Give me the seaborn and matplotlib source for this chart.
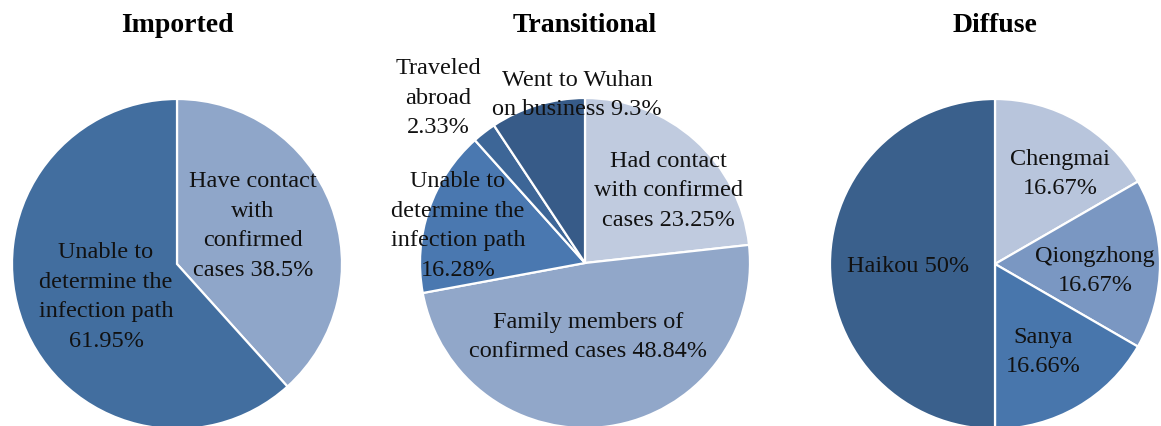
import matplotlib
matplotlib.use("Agg")
import matplotlib.pyplot as plt
import seaborn as sns

sns.set_theme(style="white")
plt.rcParams["font.family"] = ["Liberation Serif", "DejaVu Serif"]

# chart data
titles = ["Imported", "Transitional", "Diffuse"]

imported_cats = ["Have contact\nwith\nconfirmed\ncases", "Unable to\ndetermine the\ninfection path"]
imported_vals = [38.5, 61.95]

transitional_cats = ["Had contact\nwith confirmed\ncases", "Family members of\nconfirmed cases",
                     "Unable to\ndetermine the\ninfection path", "Traveled\nabroad",
                     "Went to Wuhan\non business"]
transitional_vals = [23.25, 48.84, 16.28, 2.33, 9.3]

diffuse_cats = ["Chengmai", "Qiongzhong", "Sanya", "Haikou"]
diffuse_vals = [16.67, 16.67, 16.66, 50]

# styling / layout
W, H, R, L = 1161, 427, 165, 1.04
seps = [[" ", "\n"], [" ", " ", "\n", "\n", " "], ["\n", "\n", "\n", " "]]
colors = [["#8fa6c9", "#426e9f"],
          ["#c0cbdf", "#91a7c9", "#4a78b0", "#3d6697", "#375b88"],
          ["#b8c5dc", "#7a97c2", "#4876ac", "#3a608c"]]
centers = [(177, 265), (585, 264), (995, 265)]
# label centres in pixels
label_pos = [[(253, 226), (106, 297)],
             [(668, 191), (588, 337), (458, 226), (438, 98), (577, 95)],
             [(1060, 174), (1095, 271), (1043, 352), (908, 267)]]

cats_all = [imported_cats, transitional_cats, diffuse_cats]
vals_all = [imported_vals, transitional_vals, diffuse_vals]

fig = plt.figure(figsize=(W / 100, H / 100), dpi=100)

for i in range(3):
    cx, cy = centers[i]
    ax = fig.add_axes([(cx - R * L) / W, (H - cy - R * L) / H, 2 * R * L / W, 2 * R * L / H])
    ax.pie(vals_all[i], colors=colors[i], startangle=90, counterclock=False,
           wedgeprops=dict(edgecolor="white", linewidth=1.6))
    ax.set_xlim(-L, L)
    ax.set_ylim(-L, L)
    ax.set_aspect("equal")
    ax.axis("off")
    for cat, val, sep, (px, py) in zip(cats_all[i], vals_all[i], seps[i], label_pos[i]):
        ax.text((px - cx) / R, -(py - cy) / R, f"{cat}{sep}{val:g}%", ha="center", va="center",
                fontsize=17.5, color="#111111", linespacing=1.55)
    fig.text(cx / W, 1 - 25 / H, titles[i], ha="center", va="center",
             fontsize=20, fontweight="bold", color="black")

fig.savefig("out.png", dpi=100)
